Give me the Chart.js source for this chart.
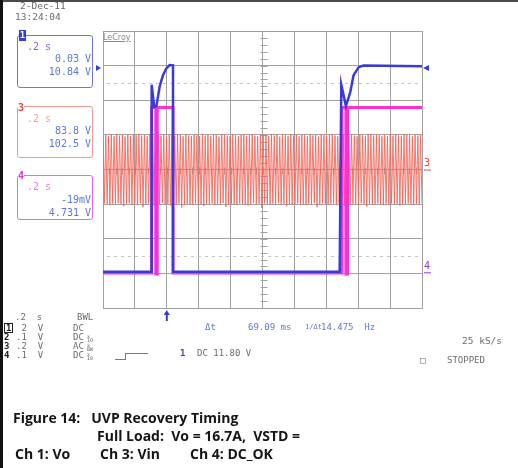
<!DOCTYPE html>
<html>
<head>
<meta charset="utf-8">
<script src="https://cdn.jsdelivr.net/npm/chart.js@4/dist/chart.umd.min.js"></script>
<style>
body{margin:0;background:#fff}
#wrap{position:relative;width:518px;height:468px;overflow:hidden;background:#fff}
#scope{position:absolute;left:0;top:0}
.t{position:absolute;font-family:"DejaVu Sans Mono",monospace;font-size:9px;line-height:10px;color:#6b6b6b;white-space:pre}
.b{color:#5b78d4}
.box{position:absolute;border:1px solid;border-radius:3px}
.cap{position:absolute;font-family:"Open Sans",Lato,sans-serif;font-weight:bold;font-size:14px;line-height:16px;color:#151515;white-space:pre}
.sm{font-size:5px;line-height:4px}
</style>
</head>
<body>
<div id="wrap">
  <canvas id="scope" width="518" height="468"></canvas>

  <div style="position:absolute;left:0;top:0;width:518px;height:2px;background:#4a4a4a"></div>
  <div style="position:absolute;left:0;top:0;width:3px;height:468px;background:#111"></div>

  <div class="t" style="left:20px;top:1px;font-size:9.5px">2-Dec-11</div>
  <div class="t" style="left:15px;top:12px;font-size:9.5px">13:24:04</div>

  <!-- channel boxes -->
  <div class="box" style="left:17px;top:35px;width:74px;height:51px;border-color:#7474d8"></div>
  <div style="position:absolute;left:19px;top:30px;width:7px;height:11px;background:#2c3fd6;color:#fff;font:bold 9px 'DejaVu Sans Mono';line-height:11px;text-align:center">1</div>
  <div class="t" style="left:27px;top:42px;font-size:10px;color:#6d6de0">.2 s</div>
  <div class="t b" style="right:427px;top:54px;font-size:10px">0.03 V</div>
  <div class="t b" style="right:427px;top:67px;font-size:10px">10.84 V</div>

  <div class="box" style="left:17px;top:106px;width:74px;height:50px;border-color:#ec9a94"></div>
  <div class="t" style="left:18px;top:103px;font-size:10px;color:#e4453a;background:#fff;font-weight:bold">3</div>
  <div class="t" style="left:27px;top:114px;font-size:10px;color:#f2a08e">.2 s</div>
  <div class="t b" style="right:427px;top:126px;font-size:10px">83.8 V</div>
  <div class="t b" style="right:427px;top:139px;font-size:10px">102.5 V</div>

  <div class="box" style="left:17px;top:175px;width:74px;height:43px;border-color:#e46ae4"></div>
  <div class="t" style="left:18px;top:171px;font-size:10px;color:#e030d8;background:#fff;font-weight:bold">4</div>
  <div class="t" style="left:27px;top:182px;font-size:10px;color:#e27ae2">.2 s</div>
  <div class="t b" style="right:427px;top:195px;font-size:10px">-19mV</div>
  <div class="t b" style="right:427px;top:208px;font-size:10px">4.731 V</div>

  <div class="t" style="left:103px;top:33px;font-family:'DejaVu Sans';font-size:8px;color:#888;text-decoration:underline">LeCroy</div>

  <!-- bottom status lines -->
  <div class="t" style="left:15px;top:312px">.2  s</div>
  <div class="t" style="left:77px;top:312px">BWL</div>

  <div class="t" style="left:4px;top:323px;color:#222;font-weight:bold;border:1px solid #222;line-height:8px;padding:0 1px">1</div>
  <div class="t" style="left:4px;top:332px;color:#222;font-weight:bold">2</div>
  <div class="t" style="left:4px;top:341px;color:#222;font-weight:bold">3</div>
  <div class="t" style="left:4px;top:350px;color:#222;font-weight:bold">4</div>
  <div class="t" style="left:16px;top:323px"> 2  V</div>
  <div class="t" style="left:16px;top:332px">.1  V</div>
  <div class="t" style="left:16px;top:341px">.2  V</div>
  <div class="t" style="left:16px;top:350px">.1  V</div>
  <div class="t" style="left:73px;top:323px">DC</div>
  <div class="t" style="left:73px;top:332px">DC</div>
  <div class="t" style="left:73px;top:341px">AC</div>
  <div class="t" style="left:73px;top:350px">DC</div>
  <div class="t sm" style="left:87px;top:334px">x<br>10</div>
  <div class="t sm" style="left:87px;top:343px">x<br>BW</div>
  <div class="t sm" style="left:87px;top:352px">x<br>10</div>

  <div class="t b" style="left:205px;top:322px">Δt</div>
  <div class="t b" style="left:248px;top:322px">69.09 ms</div>
  <div class="t b" style="left:305px;top:322px;font-size:7px">1/Δt</div>
  <div class="t b" style="left:321px;top:322px">14.475  Hz</div>

  <div class="t" style="left:462px;top:336px;font-size:9.5px">25 kS/s</div>

  <div style="position:absolute;left:115px;top:359px;width:10px;height:0;border-top:1px solid #5b78d4"></div>
  <div style="position:absolute;left:125px;top:353px;width:22px;height:6px;border-left:1px solid #5b78d4;border-top:1px solid #5b78d4"></div>
  <div class="t" style="left:180px;top:348px;color:#3548d0;font-weight:bold">1</div>
  <div class="t" style="left:197px;top:348px">DC 11.80 V</div>

  <div class="t" style="left:420px;top:355px">□</div>
  <div class="t" style="left:447px;top:355px">STOPPED</div>

  <!-- caption -->
  <div class="cap" style="left:13px;top:410px">Figure 14:   UVP Recovery Timing</div>
  <div class="cap" style="left:97px;top:428px">Full Load:  Vo = 16.7A,  VSTD =</div>
  <div class="cap" style="left:15px;top:446px">Ch 1: Vo</div>
  <div class="cap" style="left:100px;top:446px">Ch 3: Vin</div>
  <div class="cap" style="left:190px;top:446px">Ch 4: DC_OK</div>
</div>

<script>
// time in ms relative to trigger, 0.2 s/div, 10 divisions
var timeTicks = [-400, -200, 0, 200, 400, 600, 800, 1000, 1200, 1400, 1600];

// Ch 1: Vo (2 V/div)
var ch1Time  = [-400, -99, -95, -79, -65, -45, -24, -3, 18, 39, 39, 1084, 1094, 1123, 1150, 1171, 1203, 1234, 1600];
var ch1Volts = [0.03, 0.03, 10.84, 9.56, 9.6, 10.72, 11.39, 11.78, 11.97, 11.95, 0.03, 0.03, 10.84, 9.6, 10.4, 11.39, 11.85, 11.95, 11.9];

// Ch 4: DC_OK (1 V/div)
var ch4Time  = [-400, -95, -95, -69, -69, -60, -60, 39, 39, 1098, 1098, 1123, 1123, 1133, 1133, 1600];
var ch4Volts = [-0.02, -0.02, 4.76, 4.76, -0.05, -0.05, 4.76, 4.76, -0.02, -0.02, 4.76, 4.76, -0.05, -0.05, 4.76, 4.76];

// Ch 3: Vin, AC coupled, peaks/troughs as displayed across the screen (V, 100 V/div)
var ch3Vin = [
  99, -98, 101, -100, 97, -103, 100, -99, 96, -101,
  102, -97, 98, -100, 100, -106, 95, -99, 101, -98,
  97, -102, 100, -99, 99, -100, 103, -97, 98, -109,
  100, -101, 96, -98, 101, -100, 99, -103, 97, -99,
  102, -100, 98, -97, 100, -101, 95, -99, 101, -104,
  99, -98, 97, -100, 102, -99, 100, -110, 96, -101,
  101, -99, 98, -100, 97, -102, 100, -98, 99, -101,
  96, -100, 102, -105, 98, -99, 100, -101, 97, -98,
  101, -103, 99, -100, 95, -99, 102, -97, 100, -108,
  98, -101, 97, -99, 101, -100, 99, -102, 96, -98,
  100, -99, 102, -101, 97, -104, 99, -100, 101, -97,
  98, -100, 96, -99, 100, -111, 101, -98, 99, -101,
  97, -100, 102, -99, 98, -102, 100, -97, 95, -100,
  101, -99, 99, -106, 97, -100, 102, -101, 98, -99,
  100, -98, 96, -101, 101, -100, 99, -103, 97, -99,
  102, -100, 98, -97, 100, -109, 95, -101, 101, -98,
  99, -100, 97, -102, 100, -99, 102, -98, 98, -101,
  96, -99, 101, -100, 99, -105, 97, -98, 100, -101,
  102, -99, 98, -100, 96, -102, 101, -97, 99, -100,
  97, -107, 100, -99, 102, -101, 98, -100, 101, -98,
  99, -100, 96, -103, 100, -99, 97, -101, 102, -98,
  98, -100, 101, -99, 99, -104, 97, -100, 100, -101,
  101, -98, 99, -100, 96, -102, 100, -99, 98, -101,
  100, -99
];

var ch1VoltsPerDiv = 2, ch1Offset = -2.97;
var ch4VoltsPerDiv = 1, ch4Offset = -2.97;
var ch3VoltsPerDiv = 100, ch3Offset = 0;
var triggerLevel = 11.8;      // Ch1 volts
var triggerTime = 0;
var markerLevels = [2.5, -2.5]; // dotted reference lines, in divisions

function toPoints(times, volts, vdiv, off) {
  return times.map(function (t, i) { return {x: t, y: volts[i] / vdiv + off}; });
}

var gridColor = '#a2a2a2';

var scopeDecor = {
  id: 'scopeDecor',
  beforeDatasetsDraw: function (chart) {
    var ctx = chart.ctx, a = chart.chartArea, x = chart.scales.x, y = chart.scales.y;
    ctx.save();
    ctx.strokeStyle = gridColor;
    ctx.lineWidth = 1;
    var cx = Math.round(x.getPixelForValue(600)) + 0.5;
    var cy = Math.round(y.getPixelForValue(0)) + 0.5;
    ctx.beginPath();
    for (var d = -4; d <= 4.001; d += 0.2) {
      var py = Math.round(y.getPixelForValue(d)) + 0.5;
      ctx.moveTo(cx - 3, py); ctx.lineTo(cx + 4, py);
    }
    for (var t = -400; t <= 1600; t += 40) {
      var px = Math.round(x.getPixelForValue(t)) + 0.5;
      ctx.moveTo(px, cy - 3); ctx.lineTo(px, cy + 4);
    }
    ctx.stroke();
    ctx.strokeStyle = '#c4c4c4';
    ctx.setLineDash([3, 4]);
    markerLevels.forEach(function (lv) {
      var py = Math.round(y.getPixelForValue(lv)) + 0.5;
      ctx.beginPath(); ctx.moveTo(a.left + 4, py); ctx.lineTo(a.right, py); ctx.stroke();
    });
    ctx.restore();
  },
  afterDraw: function (chart) {
    var ctx = chart.ctx, a = chart.chartArea, x = chart.scales.x, y = chart.scales.y;
    ctx.save();
    // trigger level arrows
    var ty = y.getPixelForValue(triggerLevel / ch1VoltsPerDiv + ch1Offset);
    ctx.fillStyle = '#2f3fd2';
    ctx.beginPath(); ctx.moveTo(a.left - 2, ty); ctx.lineTo(a.left - 7, ty - 3); ctx.lineTo(a.left - 7, ty + 3); ctx.fill();
    ctx.beginPath(); ctx.moveTo(a.right + 1, ty); ctx.lineTo(a.right + 7, ty - 3); ctx.lineTo(a.right + 7, ty + 3); ctx.fill();
    // trigger position arrow
    var tx = x.getPixelForValue(triggerTime);
    ctx.strokeStyle = '#2f3fd2';
    ctx.lineWidth = 2;
    ctx.beginPath(); ctx.moveTo(tx, a.bottom + 4); ctx.lineTo(tx, a.bottom + 13); ctx.stroke();
    ctx.beginPath(); ctx.moveTo(tx, a.bottom + 2); ctx.lineTo(tx - 3, a.bottom + 7); ctx.lineTo(tx + 3, a.bottom + 7); ctx.fill();
    // channel ground labels on the right
    ctx.font = '10px "DejaVu Sans Mono"';
    ctx.textBaseline = 'bottom';
    ctx.lineWidth = 1;
    [['3', ch3Offset, '#e0483c'], ['4', ch4Offset, '#8a3ae0']].forEach(function (m) {
      var py = y.getPixelForValue(m[1]);
      ctx.fillStyle = m[2];
      ctx.strokeStyle = m[2];
      ctx.fillText(m[0], a.right + 2, py - 1);
      ctx.beginPath(); ctx.moveTo(a.right + 2, py + 0.5); ctx.lineTo(a.right + 9, py + 0.5); ctx.stroke();
    });
    ctx.restore();
  }
};

new Chart(document.getElementById('scope').getContext('2d'), {
  type: 'line',
  data: {
    datasets: [{
      label: 'Ch 1: Vo',
      data: toPoints(ch1Time, ch1Volts, ch1VoltsPerDiv, ch1Offset),
      borderColor: '#3a3ad6',
      borderWidth: 2.5,
      pointRadius: 0,
      order: 0
    }, {
      label: 'Ch 4: DC_OK',
      data: toPoints(ch4Time, ch4Volts, ch4VoltsPerDiv, ch4Offset),
      borderColor: '#ff2fd2',
      borderWidth: 3,
      pointRadius: 0,
      order: 1
    }, {
      label: 'Ch 3: Vin',
      data: ch3Vin.map(function (v, i) { return {x: i, y: v / ch3VoltsPerDiv + ch3Offset}; }),
      xAxisID: 'xs',
      borderColor: 'rgba(240,100,88,0.85)',
      borderWidth: 1,
      pointRadius: 0,
      order: 2
    }]
  },
  options: {
    responsive: false,
    animation: false,
    devicePixelRatio: 1,
    layout: { padding: { left: 103, top: 31, right: 96, bottom: 160 } },
    plugins: { legend: { display: false }, tooltip: { enabled: false } },
    elements: { line: { tension: 0 } },
    scales: {
      x: {
        type: 'linear', min: -400, max: 1600,
        afterBuildTicks: function (s) { s.ticks = timeTicks.map(function (v) { return {value: v}; }); },
        ticks: { display: false },
        grid: { color: gridColor, drawTicks: false, tickLength: 0 },
        border: { color: gridColor }
      },
      xs: {
        type: 'linear', display: false, min: 0, max: ch3Vin.length - 1
      },
      y: {
        type: 'linear', min: -4, max: 4,
        ticks: { display: false, stepSize: 1 },
        grid: { color: gridColor, drawTicks: false, tickLength: 0 },
        border: { color: gridColor }
      }
    }
  },
  plugins: [scopeDecor]
});
</script>
</body>
</html>
